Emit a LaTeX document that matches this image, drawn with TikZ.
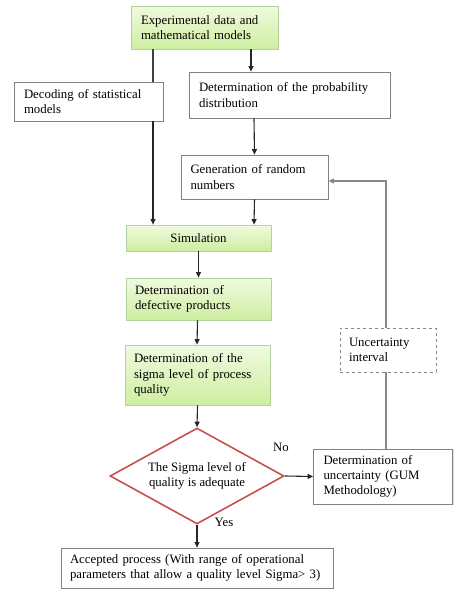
\documentclass[tikz,border=0pt]{standalone}
\usepackage{fontspec}
\setmainfont{Liberation Serif}
\usetikzlibrary{shapes.geometric,arrows.meta,shadows}
\definecolor{gtop}{RGB}{240,250,224}
\definecolor{gbot}{RGB}{206,238,160}
\definecolor{gborder}{RGB}{180,210,160}
\definecolor{bborder}{RGB}{130,130,130}
\definecolor{dred}{RGB}{196,82,78}
\definecolor{loopgray}{RGB}{135,135,135}
\begin{document}
\begin{tikzpicture}[x=1pt,y=-1pt,
  font=\fontsize{12.8}{15.3}\selectfont,
  base/.style={rectangle,inner sep=0pt,align=left,
    drop shadow={shadow xshift=1pt,shadow yshift=-1pt,opacity=0.25}},
  greenbox/.style={base,draw=gborder,line width=0.8pt,top color=gtop,bottom color=gbot},
  whitebox/.style={base,draw=bborder,line width=0.8pt,fill=white},
  dashbox/.style={rectangle,inner sep=0pt,align=left,draw=loopgray,line width=0.8pt,dashed,fill=white},
  arr/.style={-{Triangle[length=5.5pt,width=5pt]},line width=1.1pt,draw=black!85},
  plain/.style={line width=1.1pt,draw=black!75},
  looparr/.style={-{Triangle[length=5.5pt,width=5pt]},line width=1.1pt,draw=loopgray},
  loopline/.style={line width=1.1pt,draw=loopgray}]
\useasboundingbox (0,0) rectangle (453,589);

\node[greenbox,minimum width=147pt,minimum height=43pt,text width=127pt] (exp) at (204.5,27.5)
  {Experimental data and\\mathematical models};
\node[whitebox,minimum width=149pt,minimum height=39pt,text width=129pt] (dec) at (88.5,101.5)
  {Decoding of statistical\\models};
\node[whitebox,minimum width=201pt,minimum height=46pt,text width=181pt] (prob) at (289.5,95)
  {Determination of the probability\\distribution};
\node[whitebox,minimum width=147pt,minimum height=44pt,text width=128pt] (gen) at (254.5,177)
  {Generation of random\\numbers};
\node[greenbox,minimum width=145pt,minimum height=26pt,text width=145pt,align=center] (sim) at (198.5,238)
  {Simulation};
\node[greenbox,minimum width=145pt,minimum height=42pt,text width=127pt] (def) at (198.5,299)
  {Determination of\\defective products};
\node[greenbox,minimum width=145pt,minimum height=60pt,text width=127pt] (sig) at (197.5,375)
  {Determination of the\\sigma level of process\\quality};
\node[diamond,draw=dred,line width=1.6pt,fill=white,aspect=1.81,inner sep=0pt,
  minimum width=174pt,minimum height=96pt,align=center] (dia) at (197,476)
  {The Sigma level of\\quality is adequate};
\node[whitebox,minimum width=139pt,minimum height=55pt,text width=119pt] (gum) at (383,476.5)
  {Determination of\\uncertainty (GUM\\Methodology)};
\node[dashbox,minimum width=96pt,minimum height=44pt,text width=78pt] (unc) at (388,350)
  {Uncertainty\\interval};
\node[whitebox,minimum width=272pt,minimum height=40pt,text width=254pt] (acc) at (197,568)
  {Accepted process (With range of operational\\parameters that allow a quality level Sigma> 3)};

\node (no) at (281,447) {No};
\node (yes) at (224,522) {Yes};

% left branch through the decoding box
\draw[plain] ([xshift=-51.5pt]exp.south) -- ([xshift=64.5pt]dec.north);
\draw[arr] ([xshift=64.5pt]dec.south) -- ([xshift=-45.5pt]sim.north);
% right branch
\draw[arr] ([xshift=46.5pt]exp.south) -- ([xshift=-38.5pt]prob.north);
\draw[arr] ([xshift=-35.5pt]prob.south) -- (gen.north);
\draw[arr] (gen.south) -- ([xshift=55.5pt]sim.north);
% main column
\draw[arr] (sim.south) -- (def.north);
\draw[arr] ([xshift=-1pt]def.south) -- ([xshift=-0.5pt]sig.north);
\draw[arr] (sig.south) -- (dia.north);
\draw[arr] (dia.east) -- (gum.west);
\draw[arr] (dia.south) -- (acc.north);
% feedback loop
\coordinate (cor) at (386,181);
\draw[loopline] ([xshift=3pt]gum.north) -- ([xshift=-2pt]unc.south);
\draw[looparr] ([xshift=-2pt]unc.north) -- (cor) -- (gen.east |- cor);
\end{tikzpicture}
\end{document}
